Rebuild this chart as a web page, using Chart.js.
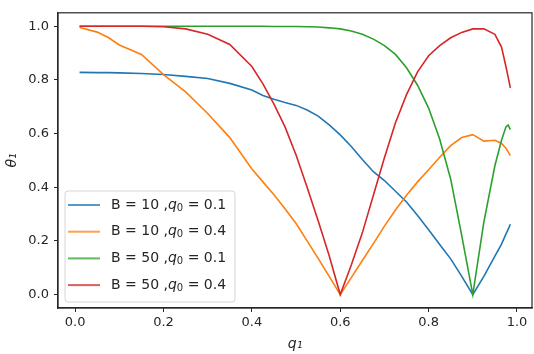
<!DOCTYPE html>
<html>
<head>
<meta charset="utf-8">
<script src="https://cdn.jsdelivr.net/npm/chart.js@4.4.1/dist/chart.umd.min.js"></script>
<style>
  html, body { margin: 0; padding: 0; background: #fff; }
</style>
</head>
<body>
<canvas id="chart" width="534" height="354"></canvas>
<script>
/* ---------- data ---------- */

const q1 = [0.01, 0.05, 0.075, 0.1, 0.15, 0.2, 0.25, 0.3, 0.35, 0.4,
  0.425, 0.45, 0.475, 0.5, 0.525, 0.55, 0.575, 0.6, 0.625, 0.65,
  0.675, 0.7, 0.725, 0.75, 0.775, 0.8, 0.825, 0.85, 0.875, 0.9,
  0.925, 0.95, 0.965, 0.975, 0.98, 0.985];

const b10q01 = [0.828, 0.827, 0.827, 0.826, 0.824, 0.82, 0.813, 0.805, 0.787, 0.762,
  0.742, 0.728, 0.716, 0.705, 0.688, 0.665, 0.632, 0.595, 0.552, 0.503,
  0.458, 0.425, 0.385, 0.345, 0.295, 0.242, 0.187, 0.133, 0.068, 0.0,
  0.068, 0.143, 0.188, 0.225, 0.243, 0.262];

const b10q04 = [0.995, 0.978, 0.958, 0.93, 0.895, 0.82, 0.755, 0.675, 0.585, 0.468,
  0.42, 0.372, 0.32, 0.265, 0.20, 0.135, 0.068, 0.0, 0.063, 0.127,
  0.19, 0.255, 0.315, 0.37, 0.42, 0.465, 0.512, 0.555, 0.585, 0.596,
  0.572, 0.575, 0.563, 0.545, 0.532, 0.518];

const b50q01 = [1.0, 1.0, 1.0, 1.0, 1.0, 1.0, 1.0, 1.0, 1.0, 1.0,
  1.0, 0.999, 0.999, 0.999, 0.998, 0.997, 0.994, 0.99, 0.982, 0.97,
  0.952, 0.928, 0.895, 0.845, 0.78, 0.695, 0.58, 0.43, 0.22, 0.0,
  0.27, 0.48, 0.575, 0.625, 0.632, 0.615];

const b50q04 = [1.0, 1.0, 1.0, 1.0, 1.0, 0.998, 0.99, 0.97, 0.932, 0.85,
  0.785, 0.71, 0.625, 0.52, 0.40, 0.275, 0.145, 0.0, 0.11, 0.23,
  0.37, 0.51, 0.64, 0.745, 0.83, 0.89, 0.928, 0.957, 0.977, 0.99,
  0.99, 0.97, 0.922, 0.85, 0.81, 0.77];

const seriesB = [10, 10, 50, 50];
const seriesQ0 = ["0.1", "0.4", "0.1", "0.4"];
const seriesValues = [b10q01, b10q04, b50q01, b50q04];
const colors = ["#1f77b4", "#ff7f0e", "#2ca02c", "#d62728"];

const xTicks = [0.0, 0.2, 0.4, 0.6, 0.8, 1.0];
const yTicks = [0.0, 0.2, 0.4, 0.6, 0.8, 1.0];

/* ---------- helpers ---------- */

const AXIS_COLOR = "#262626";
const tickFont = { family: "DejaVu Sans", size: 13 };

function toPoints(values) {
  return values.map((v, i) => ({ x: q1[i], y: v }));
}

/* ---------- plugins: frame + inside legend ---------- */

const framePlugin = {
  id: "frame",
  afterDatasetsDraw(chart) {
    const { ctx, chartArea: a } = chart;
    ctx.save();
    ctx.strokeStyle = AXIS_COLOR;
    ctx.lineWidth = 1.2;
    ctx.strokeRect(a.left, a.top, a.right - a.left, a.bottom - a.top);
    ctx.restore();
  }
};

const legendPlugin = {
  id: "insideLegend",
  afterDraw(chart) {
    const { ctx, chartArea: a } = chart;
    const x0 = a.left + 7;
    const w = 170;
    const h = 111;
    const y0 = a.bottom - 6 - h;
    const r = 3;

    ctx.save();
    ctx.beginPath();
    ctx.moveTo(x0 + r, y0);
    ctx.arcTo(x0 + w, y0, x0 + w, y0 + h, r);
    ctx.arcTo(x0 + w, y0 + h, x0, y0 + h, r);
    ctx.arcTo(x0, y0 + h, x0, y0, r);
    ctx.arcTo(x0, y0, x0 + w, y0, r);
    ctx.closePath();
    ctx.fillStyle = "rgba(255,255,255,0.8)";
    ctx.fill();
    ctx.strokeStyle = "#d6d6d6";
    ctx.lineWidth = 1;
    ctx.stroke();

    ctx.textBaseline = "middle";
    for (let i = 0; i < seriesB.length; i++) {
      const y = y0 + 14 + i * 26.7;
      ctx.globalAlpha = 0.75;
      ctx.strokeStyle = colors[i];
      ctx.lineWidth = 2;
      ctx.beginPath();
      ctx.moveTo(x0 + 3, y);
      ctx.lineTo(x0 + 35, y);
      ctx.stroke();
      ctx.globalAlpha = 1;

      ctx.fillStyle = AXIS_COLOR;
      let tx = x0 + 46;
      ctx.font = '14px "DejaVu Sans"';
      const head = "B = " + seriesB[i] + " ,";
      ctx.fillText(head, tx, y);
      tx += ctx.measureText(head).width;
      ctx.font = 'italic 14px "DejaVu Sans"';
      ctx.fillText("q", tx, y);
      tx += ctx.measureText("q").width;
      ctx.font = '10px "DejaVu Sans"';
      ctx.fillText("0", tx, y + 3);
      tx += ctx.measureText("0").width;
      ctx.font = '14px "DejaVu Sans"';
      ctx.fillText(" = " + seriesQ0[i], tx, y);
    }
    ctx.restore();
  }
};

/* ---------- chart ---------- */

const datasets = seriesValues.map((vals, i) => ({
  data: toPoints(vals),
  borderColor: colors[i],
  borderWidth: 1.6,
  pointRadius: 0,
  tension: 0,
  fill: false,
  order: seriesValues.length - i
}));

new Chart(document.getElementById("chart").getContext("2d"), {
  type: "line",
  data: { datasets },
  options: {
    responsive: false,
    animation: false,
    layout: { padding: { top: 1, right: 2, left: 0, bottom: 0 } },
    plugins: {
      legend: { display: false },
      tooltip: { enabled: false }
    },
    scales: {
      x: {
        type: "linear",
        min: -0.0388,
        max: 1.034,
        afterBuildTicks: s => { s.ticks = xTicks.map(v => ({ value: v })); },
        afterFit: s => { s.height = 46; },
        ticks: {
          callback: v => v.toFixed(1),
          font: tickFont,
          color: AXIS_COLOR,
          padding: 3,
          maxRotation: 0
        },
        grid: { drawOnChartArea: false, drawTicks: true, tickLength: 4, tickColor: AXIS_COLOR },
        border: { display: true, color: AXIS_COLOR, width: 1.2 },
        title: {
          display: true,
          text: "q\u2081",
          color: AXIS_COLOR,
          font: { family: "DejaVu Sans", size: 14, style: "italic" },
          padding: { top: 0, bottom: 1 }
        }
      },
      y: {
        type: "linear",
        min: -0.05,
        max: 1.05,
        afterBuildTicks: s => { s.ticks = yTicks.map(v => ({ value: v })); },
        afterFit: s => { s.width = 58; },
        ticks: {
          callback: v => v.toFixed(1),
          font: tickFont,
          color: AXIS_COLOR,
          padding: 5
        },
        grid: { drawOnChartArea: false, drawTicks: true, tickLength: 4, tickColor: AXIS_COLOR },
        border: { display: true, color: AXIS_COLOR, width: 1.2 },
        title: {
          display: true,
          text: "\u03b8\u2081",
          color: AXIS_COLOR,
          font: { family: "DejaVu Sans", size: 14, style: "italic" },
          padding: { top: 4, bottom: 0 }
        }
      }
    }
  },
  plugins: [framePlugin, legendPlugin]
});
</script>
</body>
</html>
